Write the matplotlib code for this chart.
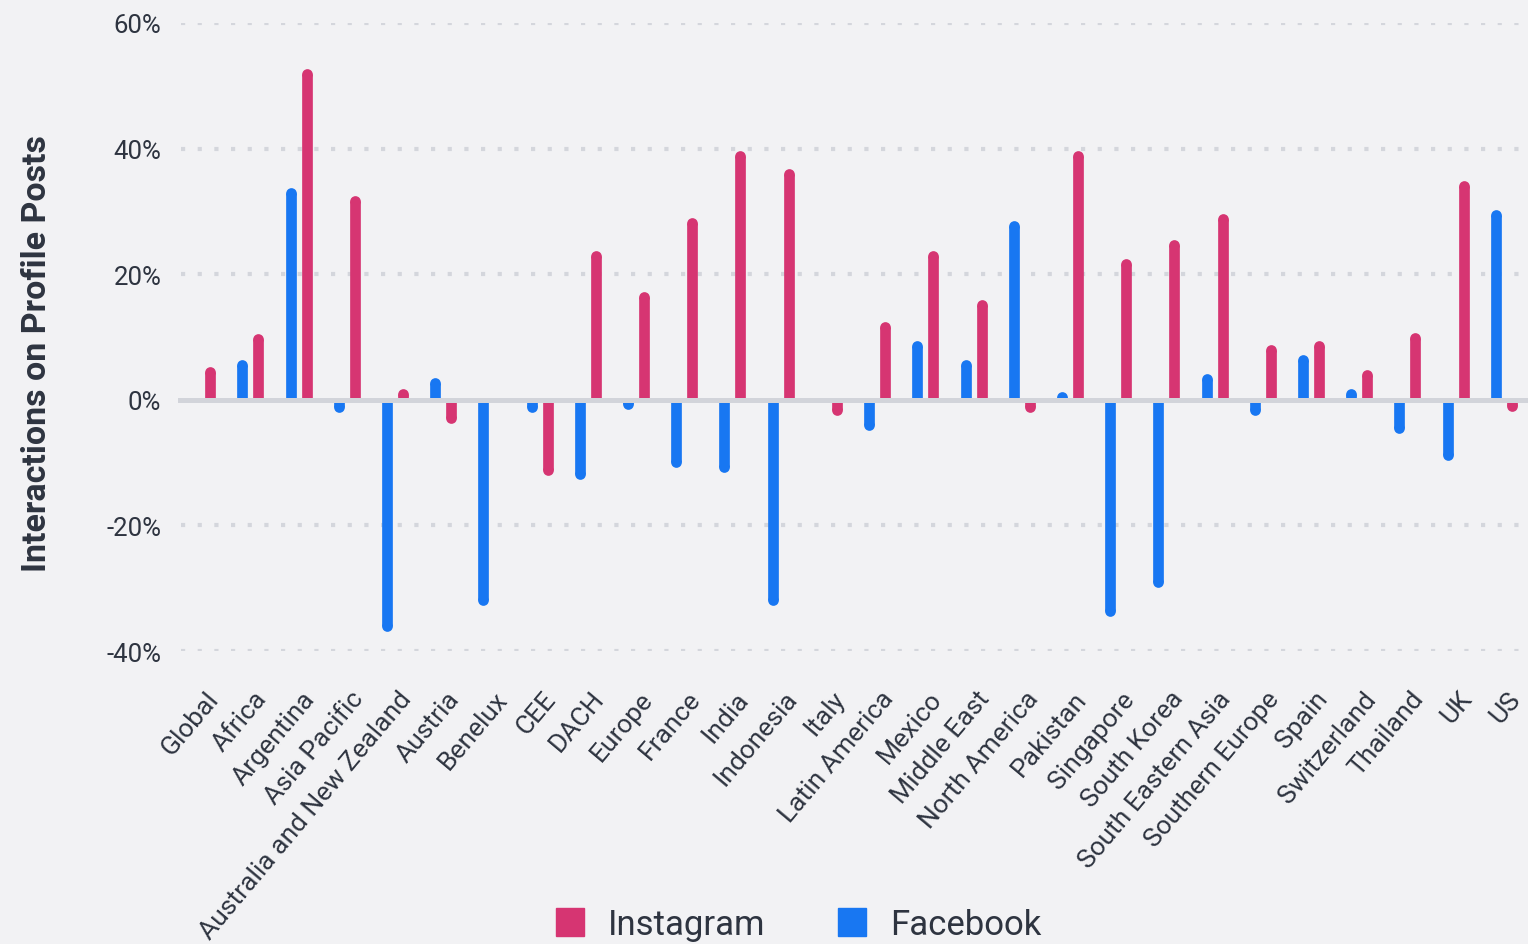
import matplotlib
matplotlib.use("Agg")
import matplotlib.pyplot as plt
import matplotlib.transforms as mtransforms
from matplotlib.lines import Line2D
import numpy as np

plt.rcParams['font.family'] = ['Roboto', 'DejaVu Sans']

categories = ["Global", "Africa", "Argentina", "Asia Pacific", "Australia and New Zealand",
              "Austria", "Benelux", "CEE", "DACH", "Europe", "France", "India", "Indonesia",
              "Italy", "Latin America", "Mexico", "Middle East", "North America", "Pakistan",
              "Singapore", "South Korea", "South Eastern Asia", "Southern Europe", "Spain",
              "Switzerland", "Thailand", "UK", "US"]
instagram = [5.3, 10.5, 52.7, 32.5, 1.8, -3.8, 0.0, -12.0, 23.7, 17.2, 29.0, 39.6, 36.8,
             -2.5, 12.4, 23.7, 16.0, -2.0, 39.6, 22.4, 25.5, 29.6, 8.8, 9.4, 4.8, 10.7, 34.9, -1.9]
facebook = [0.0, 6.4, 33.8, -2.0, -36.8, 3.5, -32.8, -2.0, -12.6, -1.5, -10.8, -11.5, -32.8,
            0.0, -4.9, 9.4, 6.4, 28.5, 1.3, -34.5, -29.8, 4.1, -2.5, 7.2, 1.8, -5.4, -9.6, 30.3]
yticks = [-40, -20, 0, 20, 40, 60]
ytick_labels = ["-40%", "-20%", "0%", "20%", "40%", "60%"]

BG = "#f2f2f4"
PINK = "#d63572"
BLUE = "#1877f2"
TXT = "#2e3440"
GRID = "#d4d6dc"

W, H = 1528, 945
fig = plt.figure(figsize=(W / 100, H / 100), dpi=100, facecolor=BG)
ax = fig.add_axes([178 / W, 1 - 652 / H, 1 - 178 / W, (652 - 24) / H], facecolor=BG)
ax.set_xlim(-0.5, len(categories) - 0.5)
ax.set_ylim(-40, 60)

# gridlines (dotted, square dots)
for t in yticks:
    if t == 0:
        continue
    ax.axhline(t, color=GRID, lw=3.0, ls=(0, (1, 3)), dash_capstyle='butt',
               zorder=1, xmin=0.002)

x = np.arange(len(categories))
off = 0.166
bar_pt = 7.7
px_per_unit = (652 - 24) / 100.0
r_data = (bar_pt / 72 * 100 / 2) / px_per_unit

def draw(xs, vals, color):
    for xi, v in zip(xs, vals):
        if v == 0:
            continue
        end = v - np.sign(v) * min(r_data, abs(v))
        ax.vlines(xi, 0, end, color=color, lw=bar_pt, capstyle='butt', zorder=3)
        ax.plot([xi], [end], marker='o', markersize=bar_pt, color=color,
                markeredgewidth=0, zorder=3)

draw(x - off, facebook, BLUE)
draw(x + off, instagram, PINK)

ax.axhline(0, color="#d2d4da", lw=3.6, zorder=4)

for s in ax.spines.values():
    s.set_visible(False)

ax.set_yticks(yticks)
ax.set_yticklabels(ytick_labels, fontsize=18.5, color=TXT)
ax.tick_params(axis='y', length=0, pad=12)
ax.set_xticks(x)
ax.set_xticklabels(categories, rotation=50, ha='right', va='center',
                   rotation_mode='anchor', fontsize=19, color=TXT)
ax.tick_params(axis='x', length=0, pad=31)
shift = mtransforms.ScaledTranslation(12 / 100, 0, fig.dpi_scale_trans)
for lbl in ax.get_xticklabels():
    lbl.set_transform(lbl.get_transform() + shift)

fig.text(37 / W, 1 - 354 / H, "Interactions on Profile Posts", rotation=90,
         ha='center', va='center', fontsize=24.5, fontweight='bold', color=TXT)

handles = [Line2D([], [], ls='', marker='s', markersize=19.5, color=PINK),
           Line2D([], [], ls='', marker='s', markersize=19.5, color=BLUE)]
fig.legend(handles, ["Instagram", "Facebook"], loc='center', bbox_to_anchor=(797 / W, 1 - 926 / H),
           ncol=2, frameon=False, fontsize=25, labelcolor=TXT, handletextpad=0.6,
           columnspacing=2.0, handlelength=1.0)

fig.savefig("out.png", dpi=100, facecolor=BG)
